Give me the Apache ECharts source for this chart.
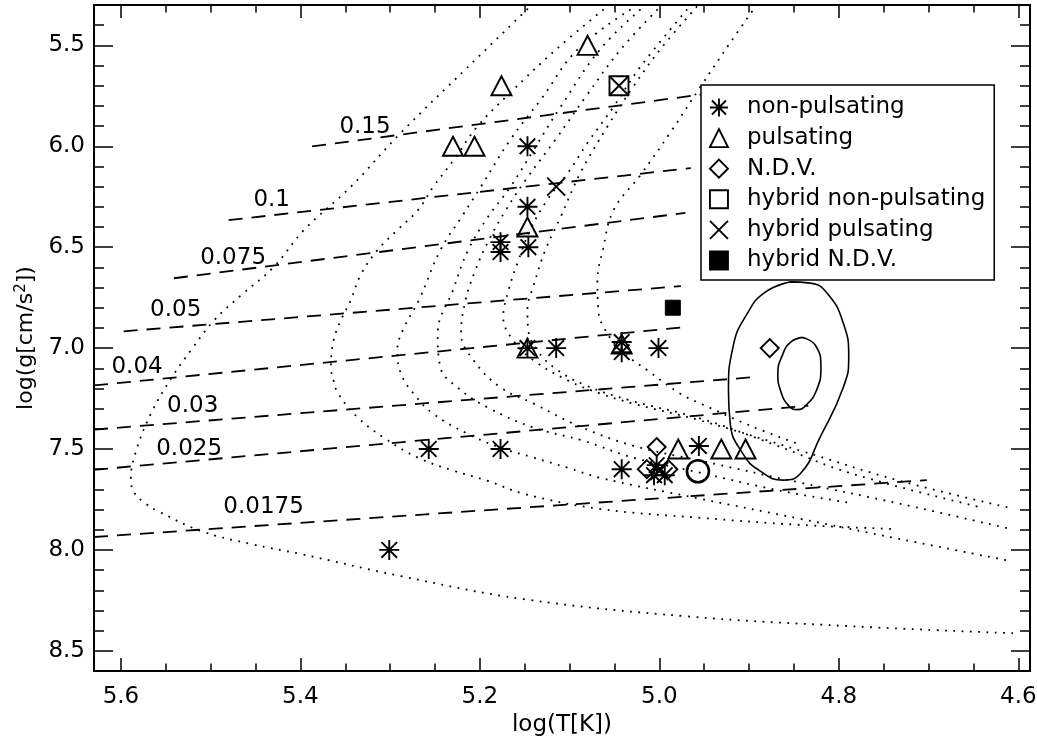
<!DOCTYPE html>
<html><head><meta charset="utf-8">
<script src="https://cdn.jsdelivr.net/npm/echarts@6/dist/echarts.min.js"></script>
<style>html,body{margin:0;padding:0;background:#fff}#c{width:1037px;height:742px}</style>
</head><body><div id="c"></div>
<script>
// ---------- axis ticks ----------
const xMajorTicks = [4.6, 4.8, 5.0, 5.2, 5.4, 5.6];
const xMinorTicks = [4.6,4.65,4.7,4.75,4.8,4.85,4.9,4.95,5.0,5.05,5.1,5.15,5.2,5.25,5.3,5.35,5.4,5.45,5.5,5.55,5.6];
const yMajorTicks = [5.5, 6.0, 6.5, 7.0, 7.5, 8.0, 8.5];
const yMinorTicks = [5.4,5.5,5.6,5.7,5.8,5.9,6.0,6.1,6.2,6.3,6.4,6.5,6.6,6.7,6.8,6.9,7.0,7.1,7.2,7.3,7.4,7.5,7.6,7.7,7.8,7.9,8.0,8.1,8.2,8.3,8.4,8.5];

// ---------- stars [logT, logg] ----------
const nonPulsating = [[5.147,6.0],[5.147,6.3],[5.177,6.475],[5.177,6.524],[5.146,6.5],[5.147,7.0],[5.115,7.0],[5.042,6.97],[5.042,7.02],[5.001,7.0],[5.257,7.5],[5.177,7.5],[4.956,7.485],[5.042,7.6],[5.003,7.58],[5.006,7.63],[4.994,7.63],[5.301,8.0]];
const pulsating = [[5.08,5.5],[5.176,5.7],[5.230,6.0],[5.206,6.0],[5.147,6.4],[5.147,7.0],[5.042,6.98],[4.979,7.5],[4.931,7.5],[4.904,7.5]];
const ndv = [[4.877,7.0],[5.003,7.49],[5.014,7.6],[4.990,7.6]];
const hybridNonPulsating = [[5.045,5.7]];
const hybridPulsating = [[5.045,5.7],[5.115,6.2],[5.0,7.61]];
const hybridNdv = [[4.985,6.8]];
const circled = [[4.957,7.61]];

// ---------- evolutionary tracks (dotted) ----------
const trackA = [[5.140,5.290],[5.214,5.610],[5.288,5.933],[5.344,6.201],[5.396,6.415],[5.430,6.599],[5.466,6.738],[5.496,6.862],[5.522,7.011],[5.544,7.150],[5.566,7.320],[5.583,7.508],[5.589,7.648],[5.585,7.717],[5.572,7.772],[5.559,7.807],[5.511,7.906],[5.455,7.971],[5.400,8.020],[5.288,8.130],[5.151,8.244],[4.970,8.329],[4.787,8.378],[4.606,8.413]];
const trackB = [[5.062,5.322],[5.115,5.520],[5.166,5.734],[5.203,5.903],[5.229,6.067],[5.252,6.201],[5.269,6.316],[5.292,6.415],[5.314,6.514],[5.333,6.639],[5.344,6.763],[5.355,6.863],[5.363,6.962],[5.366,7.096],[5.363,7.161],[5.358,7.225],[5.336,7.344],[5.307,7.444],[5.269,7.543],[5.229,7.608],[5.191,7.658],[5.151,7.722],[5.066,7.797],[4.954,7.841],[4.843,7.876],[4.741,7.896]];
const trackC = [[5.032,5.322],[5.091,5.520],[5.132,5.768],[5.166,5.967],[5.199,6.201],[5.219,6.341],[5.244,6.514],[5.268,6.763],[5.286,6.912],[5.292,7.011],[5.288,7.126],[5.274,7.225],[5.252,7.325],[5.214,7.424],[5.177,7.494],[5.140,7.543],[5.102,7.593],[5.066,7.643],[4.954,7.747],[4.843,7.846],[4.732,7.946],[4.609,8.055]];
const trackD = [[5.021,5.322],[5.066,5.520],[5.110,5.804],[5.140,6.017],[5.166,6.201],[5.191,6.350],[5.213,6.514],[5.230,6.713],[5.247,6.927],[5.244,7.096],[5.225,7.195],[5.191,7.295],[5.140,7.394],[5.085,7.459],[5.029,7.543],[4.954,7.618],[4.865,7.707],[4.787,7.767]];
const trackE = [[5.002,5.322],[5.043,5.520],[5.082,5.754],[5.116,5.968],[5.149,6.167],[5.171,6.316],[5.190,6.465],[5.205,6.614],[5.216,6.763],[5.221,6.927],[5.207,7.061],[5.177,7.195],[5.140,7.275],[5.091,7.384],[5.029,7.484],[4.954,7.558],[4.843,7.667],[4.732,7.771],[4.609,7.896]];
const trackF = [[4.969,5.322],[5.021,5.605],[5.051,5.804],[5.080,5.983],[5.102,6.132],[5.125,6.266],[5.144,6.415],[5.157,6.564],[5.168,6.713],[5.174,6.847],[5.163,6.961],[5.140,7.061],[5.102,7.160],[5.066,7.225],[5.029,7.275],[4.954,7.359],[4.843,7.508],[4.732,7.658],[4.609,7.792]];
const trackG = [[4.958,5.307],[4.999,5.520],[5.029,5.704],[5.058,5.903],[5.088,6.132],[5.110,6.350],[5.127,6.514],[5.140,6.688],[5.147,6.812],[5.146,6.912],[5.136,7.011],[5.116,7.101],[5.082,7.185],[5.032,7.260],[4.954,7.349],[4.871,7.480],[4.787,7.620],[4.639,7.792]];
const trackH = [[4.891,5.297],[4.921,5.486],[4.954,5.704],[4.988,5.933],[5.021,6.142],[5.051,6.316],[5.063,6.514],[5.069,6.664],[5.068,6.813],[5.062,6.897],[5.043,7.011],[5.013,7.111],[4.977,7.225],[4.954,7.275],[4.899,7.384],[4.846,7.474]];
const tracks = [trackA, trackB, trackC, trackD, trackE, trackF, trackG, trackH];

// ---------- dashed iso-lines ----------
const rhoLines = [
  [[5.387,6.001],[4.954,5.744]],
  [[5.480,6.366],[4.965,6.108]],
  [[5.541,6.654],[4.971,6.330]],
  [[5.597,6.917],[4.976,6.693]],
  [[5.630,7.185],[4.974,6.897]],
  [[5.630,7.404],[4.898,7.145]],
  [[5.630,7.603],[4.834,7.285]],
  [[5.630,7.936],[4.702,7.654]]
];
const rhoLabels = ['0.15','0.1','0.075','0.05','0.04','0.03','0.025','0.0175'];
const rhoLabelT = [5.328,5.432,5.475,5.539,5.582,5.520,5.524,5.441];
const rhoLabelG = [5.904,6.266,6.554,6.813,7.094,7.285,7.499,7.790];

// ---------- solid contours ----------
const contourOuter = [[4.854,6.672],[4.832,6.678],[4.813,6.728],[4.795,6.877],[4.789,7.045],[4.795,7.194],[4.821,7.442],[4.843,7.623],[4.862,7.654],[4.888,7.608],[4.907,7.523],[4.921,7.374],[4.923,7.210],[4.918,6.995],[4.902,6.828],[4.882,6.723],[4.854,6.672]];
const contourInner = [[4.841,6.947],[4.826,6.987],[4.820,7.096],[4.825,7.210],[4.837,7.285],[4.846,7.305],[4.856,7.285],[4.865,7.210],[4.868,7.126],[4.863,7.036],[4.854,6.972],[4.841,6.947]];

const FONT = 'DejaVu Sans';
const FS = 23;
const BLACK = '#000';
const asteriskPath = 'path://M10,0L10,20M0,10L20,10M2.2,2.2L17.8,17.8M17.8,2.2L2.2,17.8';
const crossPath = 'path://M0,0L20,20M20,0L0,20';
const MW = 1.9;

const series = [];
tracks.forEach(t => series.push({type:'line', data:t, symbol:'none', smooth:0.4, silent:true, z:1,
  lineStyle:{color:BLACK, width:1.8, type:[1.8,6.5]}}));
rhoLines.forEach(d => series.push({type:'line', data:d, symbol:'none', silent:true, z:1,
  lineStyle:{color:BLACK, width:1.8, type:[14,9]}}));
[contourOuter, contourInner].forEach(d => series.push({type:'line', data:d, symbol:'none', smooth:0.5, silent:true, z:1,
  lineStyle:{color:BLACK, width:1.6}}));
series.push({type:'scatter', silent:true, symbolSize:1, itemStyle:{color:'rgba(0,0,0,0)', opacity:1}, z:3,
  data: rhoLabels.map((s,i)=>[rhoLabelT[i], rhoLabelG[i], s]),
  label:{show:true, position:'inside', formatter:p=>p.data[2], fontFamily:FONT, fontSize:FS, color:BLACK}});

const hollow = {color:'rgba(0,0,0,0)', borderColor:BLACK, borderWidth:MW, opacity:1};
series.push({name:'non-pulsating', type:'scatter', data:nonPulsating, symbol:asteriskPath, symbolSize:20, itemStyle:hollow, z:5, silent:true});
series.push({name:'pulsating', type:'scatter', data:pulsating, symbol:'triangle', symbolSize:[20,19], itemStyle:hollow, z:5, silent:true});
series.push({name:'N.D.V.', type:'scatter', data:ndv, symbol:'diamond', symbolSize:[18,18], itemStyle:hollow, z:5, silent:true});
series.push({name:'hybrid non-pulsating', type:'scatter', data:hybridNonPulsating, symbol:'rect', symbolSize:19, itemStyle:hollow, z:5, silent:true});
series.push({name:'hybrid pulsating', type:'scatter', data:hybridPulsating, symbol:crossPath, symbolSize:18, itemStyle:hollow, z:5, silent:true});
series.push({name:'hybrid N.D.V.', type:'scatter', data:hybridNdv, symbol:'rect', symbolSize:15, itemStyle:{color:BLACK, borderColor:BLACK, borderWidth:1, opacity:1}, z:5, silent:true});
series.push({name:'circled', type:'scatter', data:circled, symbol:'circle', symbolSize:22, itemStyle:{color:'rgba(0,0,0,0)', borderColor:BLACK, borderWidth:2.6, opacity:1}, z:5, silent:true});

const X_MIN = 4.587, X_MAX = 5.630, Y_MIN = 5.3, Y_MAX = 8.6;
function xAx(grid, pos, ticks, len, labels){
  return {type:'value', gridIndex:grid, position:pos, inverse:true, min:X_MIN, max:X_MAX,
    axisLine:{show:true, onZero:false, lineStyle:{color:BLACK, width:2}},
    axisTick:{show:true, inside:true, length:len, customValues:ticks, lineStyle:{color:BLACK, width:1.5}},
    axisLabel:{show:labels, customValues:ticks, formatter:v=>v.toFixed(1), fontFamily:FONT, fontSize:FS, color:BLACK, margin:15},
    splitLine:{show:false},
    name: labels ? 'log(T[K])' : '', nameLocation:'middle', nameGap:42,
    nameTextStyle:{fontFamily:FONT, fontSize:FS, color:BLACK}};
}
function yAx(grid, pos, ticks, len, labels){
  return {type:'value', gridIndex:grid, position:pos, inverse:true, min:Y_MIN, max:Y_MAX,
    axisLine:{show:true, onZero:false, lineStyle:{color:BLACK, width:2}},
    axisTick:{show:true, inside:true, length:len, customValues:ticks, lineStyle:{color:BLACK, width:1.5}},
    axisLabel:{show:labels, customValues:ticks, formatter:v=>v.toFixed(1), fontFamily:FONT, fontSize:FS, color:BLACK, margin:9},
    splitLine:{show:false},
    name: labels ? 'log(g[cm/s{sup|2}])' : '', nameLocation:'middle', nameGap:54, nameRotate:90,
    nameTextStyle:{fontFamily:FONT, fontSize:22, color:BLACK, rich:{sup:{fontFamily:FONT, fontSize:15, color:BLACK, padding:[0,0,11,0]}}}};
}

const gridBox = {left:94, top:5, right:7, bottom:71, containLabel:false, outerBoundsMode:'none'};
const chart = echarts.init(document.getElementById('c'), null, {renderer:'canvas'});
chart.setOption({
  animation:false,
  backgroundColor:'#fff',
  grid:[Object.assign({}, gridBox), Object.assign({}, gridBox)],
  xAxis:[xAx(0,'bottom',xMajorTicks,13,true), xAx(0,'top',xMajorTicks,13,false),
         xAx(1,'bottom',xMinorTicks,7.5,false), xAx(1,'top',xMinorTicks,7.5,false)],
  yAxis:[yAx(0,'left',yMajorTicks,19,true), yAx(0,'right',yMajorTicks,19,false),
         yAx(1,'left',yMinorTicks,10,false), yAx(1,'right',yMinorTicks,10,false)],
  legend:{
    data:['non-pulsating','pulsating','N.D.V.','hybrid non-pulsating','hybrid pulsating','hybrid N.D.V.'],
    orient:'vertical', left:701, top:85, itemWidth:18, itemHeight:18, itemGap:7.6,
    padding:[11,9,8,8], backgroundColor:'#fff', borderColor:BLACK, borderWidth:1.5,
    selectedMode:false,
    itemStyle:{borderWidth:MW, opacity:1},
    textStyle:{fontFamily:FONT, fontSize:FS, color:BLACK, padding:[0,0,0,14]}
  },
  series: series
});
</script></body></html>
